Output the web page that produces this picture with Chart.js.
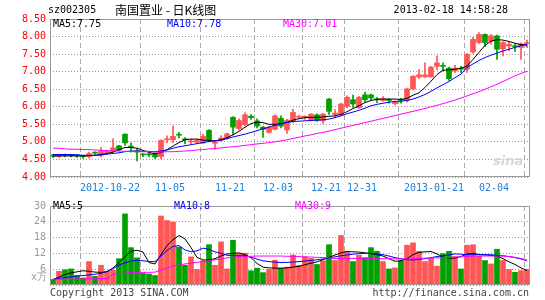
<!DOCTYPE html>
<html>
<head>
<meta charset="utf-8">
<script src="https://cdn.jsdelivr.net/npm/chart.js@4/dist/chart.umd.min.js"></script>
<style>
  body { margin: 0; background: #fff; }
  #wrap { position: relative; width: 545px; height: 300px; overflow: hidden; font-family: "DejaVu Sans Mono", monospace; font-size: 10px; }
  canvas { position: absolute; left: 0; }
  .t { position: absolute; line-height: 12px; white-space: pre; }
</style>
</head>
<body>
<div id="wrap">
  <canvas id="kline" width="545" height="196" style="top:0"></canvas>
  <canvas id="vol" width="545" height="104" style="top:196px"></canvas>

  <div class="t" style="left:48px;top:4px;color:#000">sz002305</div>
  <div class="t" style="left:115px;top:3px;line-height:14px;font-size:12px;font-family:'Noto Sans CJK SC',sans-serif;color:#000">南国置业 - 日K线图</div>
  <div class="t" style="right:37px;top:4px;color:#000">2013-02-18 14:58:28</div>

  <div class="t" style="left:53px;top:18px;color:#000">MA5:7.75</div>
  <div class="t" style="left:167px;top:18px;color:#0000ff">MA10:7.78</div>
  <div class="t" style="left:283px;top:18px;color:#ff00ff">MA30:7.01</div>

  <div class="t" style="left:493px;top:153px;line-height:16px;font:italic bold 13px 'DejaVu Sans',sans-serif;color:#d6d6d6">sina</div>

  <div class="t" style="left:53px;top:200px;color:#000">MA5:5</div>
  <div class="t" style="left:174px;top:200px;color:#0000ff">MA10:8</div>
  <div class="t" style="left:295px;top:200px;color:#ff00ff">MA30:9</div>

  <div class="t" style="left:31px;top:271px;color:#999">x万</div>
  <div class="t" style="left:50px;top:287px;color:#444">Copyright 2013 SINA.COM</div>
  <div class="t" style="right:16px;top:287px;color:#444">http://finance.sina.com.cn</div>
</div>

<script>
// date ticks (bar index -> label)
const tickPos = [10, 20, 30, 38, 46, 52, 64, 74];
const tickLabels = ['2012-10-22', '11-05', '11-21', '12-03', '12-21', '12-31', '2013-01-21', '02-04'];

// daily candles
const opens = [4.63,4.58,4.62,4.62,4.61,4.60,4.58,4.69,4.62,4.70, 4.73,4.89,5.22,4.88,4.75,4.64,4.64,4.66,4.58,5.06,
  5.06,5.21,5.09,5.00,4.99,4.97,5.33,4.96,5.05,5.11, 5.70,5.38,5.49,5.73,5.60,5.42,5.27,5.36,5.67,5.34,
  5.59,5.70,5.70,5.61,5.77,5.60,6.22,5.78,5.78,6.01, 6.20,5.97,6.34,6.34,6.22,6.18,6.20,6.09,6.20,6.18,
  6.51,6.85,6.85,6.85,7.15,7.17,7.10,7.02,7.09,7.07, 7.56,7.83,8.06,7.87,8.02,7.65,7.73,7.73,7.69,7.80];
const highs = [4.65,4.64,4.65,4.64,4.63,4.61,4.71,4.72,4.84,4.76, 5.09,4.90,5.23,4.97,4.80,4.67,4.68,4.68,5.06,5.17,
  5.45,5.27,5.12,5.08,5.08,5.22,5.35,5.02,5.18,5.25, 5.72,5.66,5.83,5.78,5.66,5.44,5.45,5.77,5.74,5.64,
  5.93,5.76,5.75,5.80,5.80,5.81,6.24,5.92,6.10,6.31, 6.33,6.30,6.42,6.36,6.27,6.29,6.23,6.16,6.24,6.53,
  6.89,7.06,7.25,7.15,7.45,7.25,7.13,7.18,7.15,7.52, 7.98,8.11,8.08,8.06,8.04,7.86,7.84,7.80,7.82,7.90];
const lows = [4.55,4.56,4.57,4.57,4.56,4.53,4.54,4.65,4.57,4.67, 4.68,4.74,4.90,4.71,4.46,4.58,4.58,4.52,4.52,4.98,
  4.98,5.11,4.94,4.95,4.96,4.95,5.00,4.79,5.02,5.08, 5.20,5.34,5.47,5.64,5.40,5.13,5.25,5.34,5.40,5.24,
  5.55,5.66,5.64,5.60,5.58,5.52,5.78,5.70,5.76,5.97, 5.98,5.95,6.14,6.18,6.12,6.15,6.10,6.05,6.10,6.13,
  6.48,6.80,6.84,6.84,7.05,7.02,6.75,6.98,6.98,6.98, 7.52,7.80,7.71,7.78,7.35,7.45,7.60,7.58,7.35,7.68];
const closes = [4.59,4.62,4.61,4.61,4.60,4.58,4.67,4.68,4.73,4.72, 4.83,4.77,4.97,4.84,4.71,4.63,4.63,4.57,5.04,5.08,
  5.16,5.19,5.06,5.03,5.04,5.16,5.05,5.00,5.11,5.23, 5.42,5.61,5.77,5.69,5.45,5.36,5.42,5.74,5.45,5.61,
  5.84,5.72,5.72,5.79,5.61,5.79,5.87,5.82,6.08,6.27, 6.08,6.27,6.20,6.25,6.20,6.23,6.18,6.14,6.18,6.51,
  6.87,6.91,6.91,7.13,7.25,7.15,6.80,7.10,7.07,7.49, 7.92,8.06,7.83,8.02,7.64,7.83,7.78,7.71,7.79,7.82];

// price moving averages
const ma5 = [4.60,4.60,4.60,4.60,4.60,4.60,4.61,4.62,4.64,4.67, 4.71,4.78,4.84,4.84,4.82,4.76,4.70,4.66,4.70,4.78,
  4.88,4.98,5.06,5.08,5.08,5.05,5.04,5.03,5.06,5.12, 5.20,5.30,5.42,5.52,5.56,5.55,5.50,5.50,5.52,5.56,
  5.62,5.66,5.69,5.70,5.70,5.71,5.73,5.74,5.78,5.86, 5.95,6.03,6.12,6.18,6.21,6.22,6.22,6.22,6.21,6.24,
  6.33,6.40,6.55,6.73,6.92,7.04,7.05,7.07,7.10,7.16, 7.35,7.55,7.75,7.87,7.91,7.90,7.86,7.81,7.77,7.75];
const ma10 = [4.64,4.64,4.64,4.64,4.63,4.62,4.61,4.62,4.63,4.65, 4.67,4.69,4.72,4.74,4.74,4.73,4.73,4.72,4.74,4.77,
  4.82,4.86,4.89,4.92,4.95,4.98,5.01,5.03,5.05,5.09, 5.14,5.18,5.22,5.27,5.32,5.37,5.42,5.47,5.51,5.55,
  5.58,5.59,5.60,5.61,5.62,5.63,5.65,5.69,5.74,5.80, 5.85,5.90,5.96,6.03,6.07,6.10,6.13,6.15,6.16,6.18,
  6.22,6.28,6.35,6.44,6.54,6.63,6.72,6.83,6.93,7.12, 7.22,7.32,7.40,7.47,7.53,7.59,7.64,7.69,7.74,7.78];
const ma30 = [4.82,4.82,4.80,4.79,4.79,4.78,4.78,4.77,4.76,4.75, 4.74,4.74,4.73,4.73,4.72,4.72,4.72,4.71,4.71,4.72,
  4.72,4.73,4.74,4.75,4.77,4.78,4.80,4.81,4.83,4.85, 4.86,4.88,4.90,4.92,4.94,4.96,4.98,5.00,5.03,5.06,
  5.10,5.13,5.17,5.20,5.24,5.27,5.31,5.35,5.39,5.43, 5.47,5.51,5.55,5.59,5.63,5.67,5.71,5.75,5.79,5.83,
  5.87,5.91,5.95,6.00,6.04,6.09,6.14,6.19,6.25,6.31, 6.37,6.43,6.50,6.57,6.64,6.72,6.80,6.88,6.95,7.01];

// volume (x万 shares) and its moving averages
const volumes = [2.1,5.2,5.8,6.1,3.6,2.7,8.9,3.3,7.5,5.2, 5.6,10.0,27.0,14.2,10.3,4.4,4.2,3.6,26.2,24.5,
  23.9,14.4,7.5,10.7,5.9,9.2,15.3,7.5,16.4,6.1, 17.0,11.9,12.1,5.4,6.4,4.7,5.9,9.4,6.4,6.8,
  11.4,7.4,10.7,10.1,7.8,9.2,15.3,9.3,18.8,12.8, 8.9,11.3,10.4,14.2,12.8,8.9,6.1,6.5,9.2,15.1,
  16.0,12.8,8.9,10.1,7.2,11.9,12.8,10.8,6.1,15.1, 15.3,10.9,9.3,8.0,13.6,9.3,5.9,4.8,5.5,5.9];
const volMa5 = [2.1,3.0,4.0,4.6,5.0,5.4,5.2,4.9,4.8,5.0, 6.5,8.5,10.8,12.8,13.2,12.5,8.5,8.0,11.5,15.0,
  17.2,18.8,17.5,14.2,10.5,9.5,9.5,10.0,11.0,11.8, 12.0,12.2,11.5,10.4,8.2,6.8,6.5,6.4,6.4,6.5,
  6.8,7.1,7.7,8.3,8.8,9.6,10.5,11.4,12.2,12.7, 12.6,12.5,12.2,11.9,11.5,11.0,10.0,9.0,9.2,10.0,
  11.5,12.4,12.6,12.7,11.8,10.6,10.2,10.2,10.8,11.8, 12.0,11.6,11.4,11.2,11.1,10.0,8.8,7.8,6.5,5.5];
const volMa10 = [2.1,2.5,2.8,3.1,3.4,3.6,3.8,4.1,4.4,5.2, 6.2,7.6,8.4,9.1,9.4,9.2,8.9,8.9,11.0,13.1,
  14.6,15.0,13.3,12.6,13.0,14.0,13.5,12.6,12.0,11.3, 11.1,11.1,11.1,10.6,9.8,9.2,8.9,8.7,8.5,8.6,
  8.7,8.9,9.1,9.3,9.6,9.9,10.3,10.7,11.1,11.4, 11.7,11.9,12.0,12.0,11.8,11.5,11.0,10.4,9.9,9.6,
  9.5,9.7,10.0,10.4,10.8,11.1,11.4,11.8,11.7,11.5, 11.5,11.5,11.5,11.5,11.3,11.1,10.8,10.4,9.9,9.2];
const volMa30 = [2.1,2.2,2.3,2.3,2.3,2.3,2.4,2.4,2.4,2.5, 4.0,4.3,4.5,4.7,4.8,4.8,4.8,4.9,5.6,6.4,
  7.2,7.6,8.0,8.3,8.6,8.9,9.2,9.6,9.9,10.3, 10.6,10.7,10.8,10.9,11.0,11.0,11.0,11.0,11.0,10.9,
  10.9,10.8,10.7,10.6,10.5,10.4,10.3,10.1,10.1,10.1, 10.1,10.1,10.1,10.1,10.0,10.0,10.0,9.9,9.9,9.9,
  10.0,10.1,10.2,10.3,10.3,10.4,10.5,10.6,10.7,10.8, 10.9,11.0,11.0,11.0,11.0,11.0,10.8,10.5,10.1,9.4];

const UP = '#ff5555';
const DOWN = '#00a000';
const MONO = { family: 'DejaVu Sans Mono', size: 10 };

const candleColors = closes.map((c, i) => (c >= opens[i] ? UP : DOWN));
const at = arr => arr.map((y, i) => ({ x: i + 0.5, y }));

// grey box round the plot area
const framePlugin = {
    id: 'frame',
    afterDraw(chart) {
        const { ctx, chartArea: a } = chart;
        ctx.save();
        ctx.strokeStyle = '#999';
        ctx.lineWidth = 1;
        ctx.strokeRect(a.left + 0.5, a.top + 0.5, a.right - a.left - 1, a.bottom - a.top - 1);
        ctx.restore();
    }
};

const xAxis = (showLabels, height) => ({
    type: 'linear',
    min: 0,
    max: volumes.length,
    offset: false,
    afterBuildTicks: s => { s.ticks = tickPos.map(v => ({ value: v })); },
    afterFit: s => { s.height = height; },
    ticks: {
        display: showLabels,
        autoSkip: false,
        maxRotation: 0,
        padding: 5,
        color: '#1e7fd9',
        font: MONO,
        callback: (v, i) => tickLabels[i]
    },
    grid: { color: '#aaa', drawTicks: false },
    border: { display: false, dash: [5, 3] }
});

const lineSet = (label, data, color) => ({
    type: 'line',
    label,
    data: at(data),
    borderColor: color,
    borderWidth: 1,
    pointRadius: 0,
    tension: 0,
    order: 1
});

new Chart(document.getElementById('kline').getContext('2d'), {
    type: 'bar',
    data: {
        datasets: [
            {
                label: 'wick',
                data: lows.map((l, i) => ({ x: i + 0.5, y: [l, highs[i]] })),
                backgroundColor: candleColors,
                barThickness: 1,
                grouped: false,
                order: 3
            },
            {
                label: 'body',
                data: opens.map((o, i) => ({ x: i + 0.5, y: [Math.min(o, closes[i]), Math.max(o, closes[i])] })),
                backgroundColor: candleColors,
                barThickness: 5,
                minBarLength: 1,
                grouped: false,
                order: 2
            },
            lineSet('MA30', ma30, '#ff00ff'),
            lineSet('MA10', ma10, '#0000ff'),
            lineSet('MA5', ma5, '#000000')
        ]
    },
    options: {
        responsive: false,
        animation: false,
        events: [],
        layout: { padding: { top: 19, right: 15, left: 0, bottom: 0 } },
        scales: {
            x: xAxis(true, 19),
            y: {
                min: 4,
                max: 8.5,
                afterFit: s => { s.width = 50; },
                ticks: { stepSize: 0.5, color: '#ff0000', font: MONO, padding: 4, callback: v => v.toFixed(2) },
                grid: { color: '#999', drawTicks: false },
                border: { display: false, dash: [1, 2] }
            }
        },
        plugins: { legend: { display: false }, tooltip: { enabled: false } }
    },
    plugins: [framePlugin]
});

new Chart(document.getElementById('vol').getContext('2d'), {
    type: 'bar',
    data: {
        datasets: [
            {
                label: 'volume',
                data: at(volumes),
                backgroundColor: candleColors,
                barThickness: 5,
                grouped: false,
                order: 2
            },
            lineSet('MA30', volMa30, '#ff00ff'),
            lineSet('MA10', volMa10, '#0000ff'),
            lineSet('MA5', volMa5, '#000000')
        ]
    },
    options: {
        responsive: false,
        animation: false,
        events: [],
        layout: { padding: { top: 5, right: 15, left: 0, bottom: 0 } },
        scales: {
            x: xAxis(false, 15),
            y: {
                min: 0,
                max: 30,
                afterFit: s => { s.width = 50; },
                ticks: { stepSize: 6, color: '#999', font: MONO, padding: 4, callback: v => (v === 0 ? '' : v) },
                grid: { color: '#999', drawTicks: false },
                border: { display: false, dash: [1, 2] }
            }
        },
        plugins: { legend: { display: false }, tooltip: { enabled: false } }
    },
    plugins: [framePlugin]
});
</script>
</body>
</html>
